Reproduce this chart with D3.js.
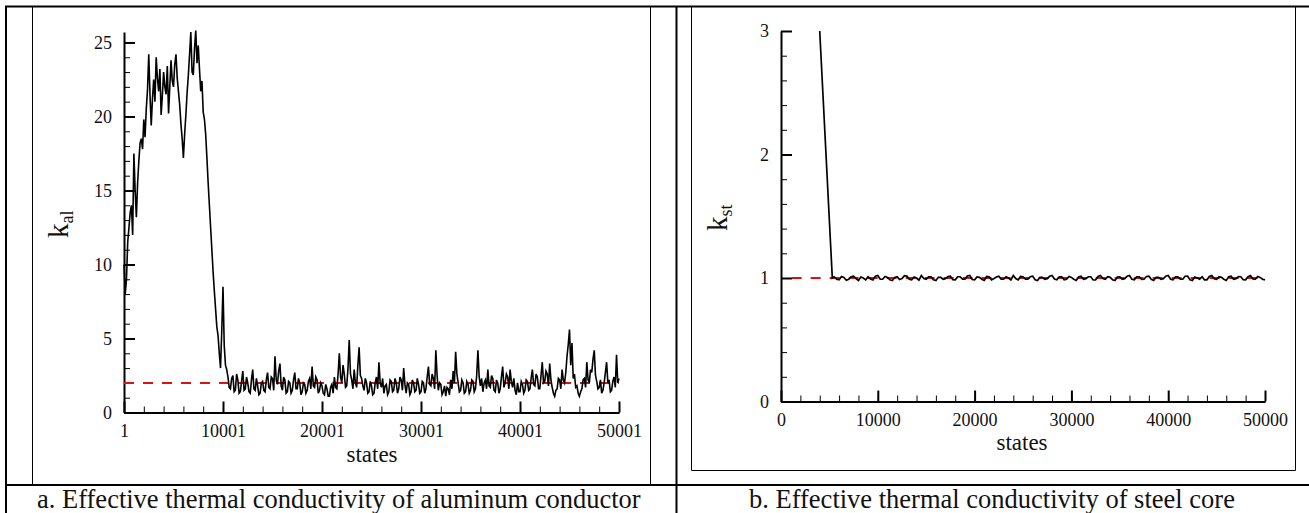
<!DOCTYPE html>
<html>
<head>
<meta charset="utf-8">
<script src="https://cdn.jsdelivr.net/npm/d3@7"></script>
<style>
	body { margin:0; background:#fff; }
	svg { display:block; font-family:"Liberation Serif","Times New Roman",serif; }
</style>
</head>
<body>
<div id="root"></div>
<script>

// aluminum conductor, one value every 125 states starting at state 1
const alStep = 125;
const alValues = [
	10.0,8.0,9.0,11.5,12.5,13.5,14.0,12.0,17.5,15.0,
	13.2,15.5,17.0,18.2,18.5,17.8,19.8,18.6,20.5,21.8,
	24.2,21.5,19.4,21.2,22.5,21.0,24.0,22.6,21.7,23.2,
	20.1,21.4,23.0,22.0,21.5,23.4,20.2,22.0,23.8,22.4,
	22.0,23.5,24.2,22.6,21.7,20.8,19.5,18.5,17.2,18.8,
	20.1,21.6,22.8,24.2,25.7,23.0,22.8,24.6,25.8,23.6,
	24.8,23.2,21.7,22.4,20.3,19.8,18.8,17.2,15.5,14.0,
	12.5,11.0,9.5,8.2,7.0,5.8,5.2,4.0,3.0,5.5,
	8.5,4.5,3.2,2.9,2.4,1.7,1.6,2.3,2.5,1.4,
	1.5,2.6,2.2,1.3,1.4,2.1,2.8,1.5,1.6,2.4,
	2.0,1.4,1.3,2.2,2.9,1.6,1.5,2.3,1.8,1.2,
	1.3,2.0,2.1,1.5,1.4,2.2,2.7,1.7,1.6,2.4,
	2.3,1.5,3.8,2.2,1.9,2.8,3.3,1.8,1.5,2.4,
	2.2,1.3,1.4,2.1,2.0,1.3,1.5,2.2,2.7,1.6,
	1.6,2.3,2.0,1.2,1.4,2.0,1.9,1.3,1.5,2.1,
	2.3,1.6,3.1,1.8,1.7,2.4,2.2,1.3,1.5,2.0,
	1.8,1.3,1.2,1.9,1.6,1.1,1.1,1.7,1.9,1.3,
	2.4,1.7,1.6,2.6,4.0,2.4,2.0,3.2,2.6,1.7,
	1.8,3.0,4.9,2.6,2.2,1.6,2.9,2.0,1.7,3.2,
	4.4,2.5,2.3,1.8,1.5,2.3,2.0,1.3,1.4,2.1,
	1.8,1.2,1.3,2.0,2.4,1.6,3.4,2.0,1.7,2.3,
	1.3,1.8,1.9,1.2,1.4,2.2,2.1,1.4,1.5,2.3,
	2.0,1.3,1.6,2.4,2.2,1.5,3.0,1.9,1.3,2.0,
	1.9,1.2,1.4,2.2,2.0,1.4,1.5,2.3,1.9,1.3,
	1.4,2.1,2.0,1.3,1.6,2.4,3.1,1.9,1.8,2.6,
	2.3,1.6,4.2,2.5,1.5,2.0,1.9,1.2,1.4,1.8,
	1.1,1.7,1.6,1.2,2.2,1.6,2.8,2.0,4.1,2.6,
	2.0,1.4,1.5,2.2,2.0,1.3,1.4,2.1,1.9,1.3,
	1.5,2.2,2.1,1.4,1.6,2.5,4.2,2.4,1.8,2.3,
	1.4,2.0,2.2,1.6,2.9,1.8,1.7,2.5,2.3,1.5,
	1.4,2.2,2.0,1.3,1.6,2.4,3.1,1.7,2.0,2.6,
	2.4,1.6,2.9,2.1,1.7,2.3,1.5,1.2,2.0,1.4,
	1.4,2.1,1.9,1.3,1.5,2.2,2.1,1.5,1.6,2.3,
	2.9,1.9,1.8,2.6,2.4,1.6,1.6,2.5,3.4,2.0,
	2.1,2.8,2.6,1.8,3.3,2.2,1.7,1.3,1.1,1.5,
	1.6,2.3,2.2,1.6,2.9,2.2,2.0,2.7,3.8,4.6,
	5.6,3.2,4.7,2.3,2.6,1.7,1.8,1.3,1.1,1.4,
	1.6,2.2,2.3,1.7,3.4,2.2,2.0,2.9,2.7,3.6,
	4.2,2.5,2.1,1.6,1.7,2.2,1.3,1.5,2.0,2.7,
	3.4,2.0,2.2,1.4,1.5,2.1,2.4,1.7,3.9,2.0,
	2.3
];
const alMean = 2.0;
const alXTicks = [1,10001,20001,30001,40001,50001];
const alYTicks = [0,5,10,15,20,25];

// steel core: the drop, then one value every 250 states from 5500
const stDropStates = [4000,5300];
const stDropValues = [3.0,1.0];
const stStart = 5500;
const stStep = 250;
const stValues = [
	1.01,0.99,0.985,1.012,1.005,0.982,0.99,1.01,1.015,0.995,0.98,1.008,1.0,0.985,1.01,0.992,0.985,1.015,1.02,0.99,
	0.99,1.012,1.005,0.985,0.98,1.005,1.01,0.988,0.995,1.018,1.015,0.99,0.985,1.008,1.0,0.982,1.02,0.995,0.99,1.01,
	1.01,0.985,0.98,1.006,1.005,0.99,0.995,1.012,1.015,0.986,0.985,1.01,1.01,0.99,0.99,1.016,1.02,0.988,0.985,1.008,
	1.005,0.99,0.98,1.012,1.01,0.985,0.995,1.008,1.015,0.99,0.99,1.01,1.0,0.984,1.02,0.995,0.985,1.012,1.01,0.99,
	0.99,1.01,1.015,0.986,0.98,1.006,1.005,0.99,0.995,1.014,1.02,0.992,0.985,1.01,1.01,0.985,0.99,1.012,1.005,0.99,
	0.98,1.008,1.015,0.99,0.995,1.01,1.01,0.984,0.985,1.012,1.02,0.995,0.99,1.01,1.005,0.986,0.98,1.008,1.01,0.99,
	0.995,1.014,1.02,0.99,0.985,1.01,1.01,0.988,0.99,1.012,1.015,0.99,0.98,1.006,1.005,0.99,0.995,1.015,1.02,0.99,
	0.985,1.01,1.01,0.99,0.99,1.014,1.015,0.986,0.98,1.008,1.0,0.99,1.01,0.985,0.985,1.012,1.02,0.994,0.99,1.01,
	1.005,0.99,0.98,1.01,1.015,0.99,0.995,1.012,1.01,0.986,0.985,1.01,1.02,0.992,0.99,1.012,1.005,0.99,0.985
];
const stMean = 1.0;
const stXTicks = [0,10000,20000,30000,40000,50000];
const stYTicks = [0,1,2,3];

const captions = [
	"a. Effective thermal conductivity of aluminum conductor",
	"b. Effective thermal conductivity of steel core"
];

const W = 1309, H = 513;

const svg = d3.select("#root").append("svg")
	.attr("width", W)
	.attr("height", H);

svg.append("rect").attr("width", W).attr("height", H).attr("fill", "#fff");

// table + picture frames
const frame = svg.append("g").attr("stroke", "#000").attr("fill", "none");
[[5,6.5,1309,6.5],[6,6,6,513],[676.5,6,676.5,513],[5,485,1309,485]].forEach(l => {
	frame.append("line").attr("x1", l[0]).attr("y1", l[1]).attr("x2", l[2]).attr("y2", l[3]).attr("stroke-width", 2);
});
[[32.5,7,32.5,485],[650.5,7,650.5,485],[691.5,7,691.5,470.5],[1295.5,7,1295.5,470.5],[691.5,470.5,1295.5,470.5]].forEach(l => {
	frame.append("line").attr("x1", l[0]).attr("y1", l[1]).attr("x2", l[2]).attr("y2", l[3]).attr("stroke-width", 1);
});

svg.selectAll(".caption")
	.data(captions)
	.enter()
	.append("text")
	.attr("class", "caption")
	.attr("x", (d, i) => i ? 749 : 37)
	.attr("y", 508)
	.attr("font-size", 26.5)
	.attr("fill", "#111")
	.text(d => d);

function drawPanel(o) {
	const g = svg.append("g");

	const x = d3.scaleLinear().domain(o.xDomain).range(o.xRange);
	const y = d3.scaleLinear().domain(o.yDomain).range(o.yRange);
	const y0 = o.yRange[0];
	const x0 = o.xRange[0];

	// minor ticks first, then majors with labels
	g.append("g")
		.attr("transform", `translate(0,${y0})`)
		.call(d3.axisBottom(x).tickValues(o.xMinor).tickSize(-6).tickFormat(""))
		.call(a => a.select(".domain").remove())
		.call(a => a.selectAll("line").attr("stroke-width", 1));
	g.append("g")
		.attr("transform", `translate(${x0},0)`)
		.call(d3.axisLeft(y).tickValues(o.yMinor).tickSize(-6).tickFormat(""))
		.call(a => a.select(".domain").remove())
		.call(a => a.selectAll("line").attr("stroke-width", 1));

	const xAxis = g.append("g")
		.attr("transform", `translate(0,${y0})`)
		.call(d3.axisBottom(x).tickValues(o.xTicks).tickSizeInner(-11).tickSizeOuter(0).tickPadding(12).tickFormat(d3.format("d")));
	const yAxis = g.append("g")
		.attr("transform", `translate(${x0},0)`)
		.call(d3.axisLeft(y).tickValues(o.yTicks).tickSizeInner(-11).tickSizeOuter(0).tickPadding(12).tickFormat(d3.format("d")));

	[xAxis, yAxis].forEach(a => {
		a.select(".domain").attr("stroke-width", 2);
		a.selectAll(".tick line").attr("stroke-width", 2);
		a.selectAll("text")
			.attr("font-family", "Liberation Serif")
			.attr("font-size", 18)
			.attr("fill", "#111");
	});

	// mean value, red dashed
	g.append("line")
		.attr("x1", x(o.meanFrom))
		.attr("x2", x(o.xDomain[1]))
		.attr("y1", y(o.mean))
		.attr("y2", y(o.mean))
		.attr("stroke", "#e01010")
		.attr("stroke-width", 2)
		.attr("stroke-dasharray", "10,9");

	const line = d3.line()
		.x(d => x(d[0]))
		.y(d => y(d[1]));

	g.append("path")
		.datum(o.points)
		.attr("d", line)
		.attr("fill", "none")
		.attr("stroke", "#000")
		.attr("stroke-width", o.lineWidth);

	// axis titles
	g.append("text")
		.attr("x", o.statesX)
		.attr("y", o.statesY)
		.attr("text-anchor", "middle")
		.attr("font-size", 23)
		.attr("fill", "#111")
		.text("states");

	const lab = g.append("text")
		.attr("transform", `translate(${o.kX},${o.kY}) rotate(-90)`)
		.attr("fill", "#111");
	lab.append("tspan").attr("font-size", 29).text("k");
	lab.append("tspan").attr("font-size", 18).attr("dy", 5).text(o.kSub);
}

const alPoints = alValues.map((v, i) => [1 + i * alStep, v]);
const stPoints = stDropStates.map((s, i) => [s, stDropValues[i]])
	.concat(stValues.map((v, i) => [stStart + i * stStep, v]));

drawPanel({
	xDomain: [1, 50001], xRange: [124, 619],
	yDomain: [0, 25.7], yRange: [412.5, 32.1],
	xTicks: alXTicks, yTicks: alYTicks,
	xMinor: d3.range(1, 50002, 2000), yMinor: d3.range(0, 26, 1),
	mean: alMean, meanFrom: 1,
	points: alPoints, lineWidth: 1.6,
	statesX: 372, statesY: 462,
	kX: 68, kY: 238, kSub: "al"
});

drawPanel({
	xDomain: [0, 50000], xRange: [781, 1265],
	yDomain: [0, 3], yRange: [401.5, 31],
	xTicks: stXTicks, yTicks: stYTicks,
	xMinor: d3.range(0, 50001, 2000), yMinor: d3.range(0, 3.01, 0.2),
	mean: stMean, meanFrom: 1100,
	points: stPoints, lineWidth: 1.7,
	statesX: 1022, statesY: 450,
	kX: 727, kY: 231, kSub: "st"
});

</script>
</body>
</html>
